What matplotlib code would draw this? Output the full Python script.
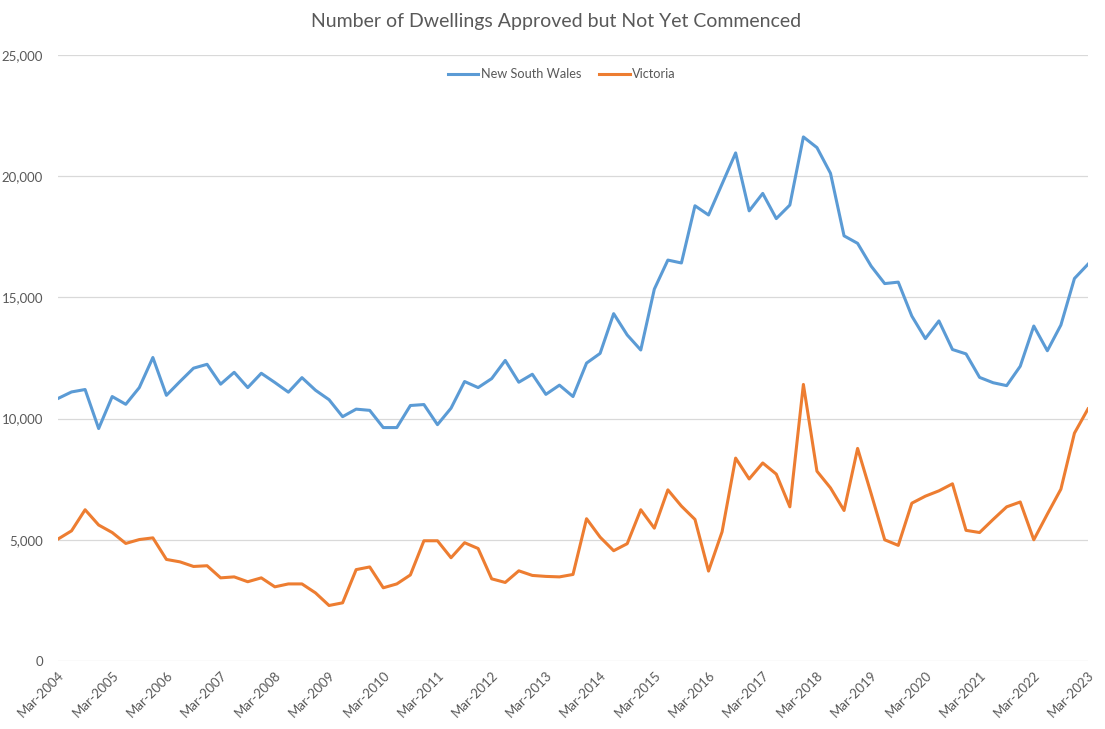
import matplotlib.pyplot as plt

# Quarterly data, Mar-2004 .. Mar-2023
years = list(range(2004, 2024))
tick_labels = [f"Mar-{y}" for y in years]

nsw = [10830, 11100, 11200, 9590, 10910, 10590, 11280, 12520, 10960, 11530,
       12080, 12240, 11420, 11910, 11280, 11870, 11490, 11090, 11690, 11170,
       10780, 10080, 10390, 10340, 9630, 9630, 10540, 10580, 9750, 10430,
       11530, 11280, 11650, 12400, 11500, 11830, 11000, 11380, 10910, 12290,
       12690, 14330, 13450, 12830, 15340, 16540, 16420, 18780, 18400, 19680,
       20960, 18570, 19290, 18250, 18810, 21620, 21180, 20120, 17540, 17230,
       16290, 15570, 15630, 14230, 13300, 14030, 12850, 12670, 11700, 11480,
       11360, 12160, 13820, 12800, 13860, 15780, 16370]

vic = [5030, 5370, 6240, 5610, 5300, 4850, 5010, 5080, 4190, 4090,
       3900, 3930, 3430, 3470, 3270, 3430, 3060, 3180, 3180, 2810,
       2290, 2400, 3770, 3880, 3020, 3180, 3550, 4960, 4960, 4260,
       4880, 4640, 3390, 3240, 3720, 3530, 3490, 3470, 3570, 5870,
       5110, 4550, 4840, 6240, 5480, 7060, 6390, 5840, 3710, 5330,
       8370, 7510, 8170, 7710, 6360, 11410, 7830, 7140, 6210, 8770,
       6900, 5000, 4770, 6510, 6800, 7020, 7310, 5390, 5300, 5840,
       6360, 6560, 5000, 6060, 7090, 9400, 10400]

plt.rcParams['font.family'] = ['Lato', 'DejaVu Sans']
text_col = '#595959'

fig = plt.figure(figsize=(11.05, 7.29), dpi=100)
ax = fig.add_axes([58 / 1105, 68 / 729, 1030 / 1105, 606 / 729])

x = list(range(len(nsw)))
ax.plot(x, nsw, color='#5B9BD5', lw=2.2, label='New South Wales', solid_joinstyle='round')
ax.plot(x, vic, color='#ED7D31', lw=2.2, label='Victoria', solid_joinstyle='round')

ax.set_xlim(0, len(nsw) - 1)
ax.set_ylim(0, 25000)
ax.set_yticks(range(0, 25001, 5000))
ax.set_yticklabels([f"{v:,}" for v in range(0, 25001, 5000)])
ax.set_xticks(range(0, len(nsw), 4))
ax.set_xticklabels(tick_labels, rotation=45, ha='right', rotation_mode='anchor')

ax.grid(axis='y', color='#D9D9D9', lw=0.9)
ax.set_axisbelow(True)
for s in ax.spines.values():
    s.set_visible(False)
ax.tick_params(length=0, colors=text_col, labelsize=9.5)
ax.tick_params(axis='y', pad=10.8)
ax.tick_params(axis='x', pad=6)

fig.text(0.5 + 4 / 1105, 1 - 22 / 729, 'Number of Dwellings Approved but Not Yet Commenced',
         ha='center', va='center', fontsize=14, color=text_col)

ax.legend(loc='upper center', bbox_to_anchor=(0.489, 0.997), ncol=2, frameon=False,
          fontsize=9.2, labelcolor=text_col, handlelength=2.4, columnspacing=1.4,
          handletextpad=0.2)

fig.savefig('out.png', dpi=100)
